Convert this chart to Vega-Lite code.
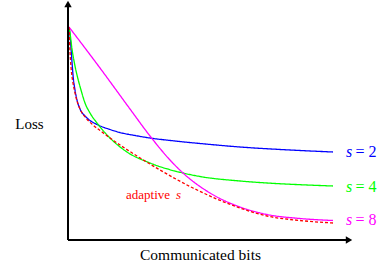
{
  "$schema": "https://vega.github.io/schema/vega-lite/v6.json",
  "width": 284,
  "height": 240,
  "autosize": {"type": "none"},
  "padding": {"left": 68, "top": 0, "right": 28, "bottom": 35},
  "background": "white",
  "config": {"view": {"stroke": null}, "font": "'Liberation Serif', serif"},
  "datasets": {
    "curves": [
      {"series": "s = 2", "x": 1, "y": 213}, {"series": "s = 2", "x": 2, "y": 205}, {"series": "s = 2", "x": 3, "y": 192}, {"series": "s = 2", "x": 4, "y": 178}, {"series": "s = 2", "x": 5, "y": 165}, {"series": "s = 2", "x": 7, "y": 150}, {"series": "s = 2", "x": 9, "y": 140}, {"series": "s = 2", "x": 12, "y": 131}, {"series": "s = 2", "x": 17, "y": 124}, {"series": "s = 2", "x": 22, "y": 119.5}, {"series": "s = 2", "x": 29, "y": 115.5}, {"series": "s = 2", "x": 42, "y": 110.5}, {"series": "s = 2", "x": 52, "y": 107.5}, {"series": "s = 2", "x": 67, "y": 104.5}, {"series": "s = 2", "x": 82, "y": 102}, {"series": "s = 2", "x": 107, "y": 99}, {"series": "s = 2", "x": 132, "y": 96.5}, {"series": "s = 2", "x": 172, "y": 93}, {"series": "s = 2", "x": 222, "y": 90}, {"series": "s = 2", "x": 265, "y": 88},
      {"series": "s = 4", "x": 1, "y": 213}, {"series": "s = 4", "x": 2, "y": 207}, {"series": "s = 4", "x": 4, "y": 191}, {"series": "s = 4", "x": 7, "y": 174}, {"series": "s = 4", "x": 10, "y": 161}, {"series": "s = 4", "x": 13, "y": 150}, {"series": "s = 4", "x": 17, "y": 137}, {"series": "s = 4", "x": 22, "y": 127}, {"series": "s = 4", "x": 29, "y": 117}, {"series": "s = 4", "x": 42, "y": 102}, {"series": "s = 4", "x": 59, "y": 88}, {"series": "s = 4", "x": 82, "y": 77}, {"series": "s = 4", "x": 115, "y": 67}, {"series": "s = 4", "x": 132, "y": 63.5}, {"series": "s = 4", "x": 172, "y": 59}, {"series": "s = 4", "x": 199, "y": 57}, {"series": "s = 4", "x": 232, "y": 55.3}, {"series": "s = 4", "x": 265, "y": 54},
      {"series": "s = 8", "x": 1, "y": 213}, {"series": "s = 8", "x": 32, "y": 172}, {"series": "s = 8", "x": 62, "y": 131}, {"series": "s = 8", "x": 82, "y": 104}, {"series": "s = 8", "x": 102, "y": 80}, {"series": "s = 8", "x": 115, "y": 67}, {"series": "s = 8", "x": 142, "y": 47}, {"series": "s = 8", "x": 172, "y": 33}, {"series": "s = 8", "x": 199, "y": 25.5}, {"series": "s = 8", "x": 232, "y": 21.5}, {"series": "s = 8", "x": 265, "y": 19.5},
      {"series": "adaptive", "x": 1, "y": 213}, {"series": "adaptive", "x": 1.5, "y": 200}, {"series": "adaptive", "x": 2, "y": 188}, {"series": "adaptive", "x": 3, "y": 173}, {"series": "adaptive", "x": 5, "y": 157}, {"series": "adaptive", "x": 7, "y": 147}, {"series": "adaptive", "x": 9, "y": 139}, {"series": "adaptive", "x": 12, "y": 131}, {"series": "adaptive", "x": 18, "y": 122}, {"series": "adaptive", "x": 25, "y": 115}, {"series": "adaptive", "x": 32, "y": 109.5}, {"series": "adaptive", "x": 42, "y": 102}, {"series": "adaptive", "x": 69, "y": 84}, {"series": "adaptive", "x": 92, "y": 70}, {"series": "adaptive", "x": 125, "y": 52}, {"series": "adaptive", "x": 172, "y": 32}, {"series": "adaptive", "x": 199, "y": 24}, {"series": "adaptive", "x": 232, "y": 19.5}, {"series": "adaptive", "x": 265, "y": 17}
    ],
    "axes": [
      {"x": 0, "y": 0, "x2": 0, "y2": 234},
      {"x": 0, "y": 0, "x2": 279, "y2": 0}
    ],
    "heads": [
      {"x": 0, "y": 236, "shape": "triangle-up"},
      {"x": 281, "y": 0, "shape": "triangle-right"}
    ],
    "labelS": [
      {"x": 278, "y": 88, "series": "s = 2", "t": "s"},
      {"x": 278, "y": 53, "series": "s = 4", "t": "s"},
      {"x": 278, "y": 20, "series": "s = 8", "t": "s"},
      {"x": 108, "y": 45, "series": "adaptive", "t": "s"}
    ],
    "labelRest": [
      {"x": 287.5, "y": 88, "series": "s = 2", "t": "= 2"},
      {"x": 287.5, "y": 53, "series": "s = 4", "t": "= 4"},
      {"x": 287.5, "y": 20, "series": "s = 8", "t": "= 8"}
    ],
    "labelAdaptive": [
      {"x": 58, "y": 45, "series": "adaptive", "t": "adaptive"}
    ]
  },
  "layer": [
    {
      "data": {"name": "curves"},
      "mark": {"type": "line", "interpolate": "monotone", "strokeWidth": 1.3},
      "encoding": {
        "x": {"field": "x", "type": "quantitative", "scale": {"domain": [0, 284], "nice": false, "zero": false},
          "axis": {"domain": false, "ticks": false, "labels": false, "grid": false, "title": "Communicated bits", "titleFont": "'Liberation Serif', serif", "titleFontSize": 15.5, "titleFontWeight": "normal", "titleColor": "black", "titleX": 132, "titleY": 14, "titleBaseline": "middle", "titleAlign": "center", "titleAnchor": null}},
        "y": {"field": "y", "type": "quantitative", "scale": {"domain": [0, 240], "nice": false, "zero": false},
          "axis": {"domain": false, "ticks": false, "labels": false, "grid": false, "title": "Loss", "titleAngle": 0, "titleFont": "'Liberation Serif', serif", "titleFontSize": 15, "titleFontWeight": "normal", "titleColor": "black", "titleX": -39, "titleY": 123, "titleBaseline": "middle", "titleAlign": "center", "titleAnchor": null}},
        "color": {"field": "series", "type": "nominal", "scale": {"domain": ["s = 2", "s = 4", "s = 8", "adaptive"], "range": ["#0000ff", "#00ff00", "#ff00ff", "#ff0000"]}, "legend": null},
        "strokeDash": {"field": "series", "type": "nominal", "scale": {"domain": ["s = 2", "s = 4", "s = 8", "adaptive"], "range": [[1, 0], [1, 0], [1, 0], [3, 2]]}, "legend": null},
        "order": {"field": "x", "type": "quantitative"}
      }
    },
    {
      "data": {"name": "axes"},
      "mark": {"type": "rule", "color": "black", "strokeWidth": 2},
      "encoding": {
        "x": {"field": "x", "type": "quantitative"},
        "y": {"field": "y", "type": "quantitative"},
        "x2": {"field": "x2"},
        "y2": {"field": "y2"}
      }
    },
    {
      "data": {"name": "heads"},
      "mark": {"type": "point", "filled": true, "color": "black", "opacity": 1, "size": 55},
      "encoding": {
        "x": {"field": "x", "type": "quantitative"},
        "y": {"field": "y", "type": "quantitative"},
        "shape": {"field": "shape", "type": "nominal", "scale": null, "legend": null}
      }
    },
    {
      "data": {"name": "labelS"},
      "transform": [{"filter": "datum.series != 'adaptive'"}],
      "mark": {"type": "text", "align": "left", "baseline": "middle", "font": "'Liberation Serif', serif", "fontSize": 16, "fontStyle": "italic"},
      "encoding": {
        "x": {"field": "x", "type": "quantitative"},
        "y": {"field": "y", "type": "quantitative"},
        "text": {"field": "t"},
        "color": {"field": "series", "type": "nominal", "legend": null}
      }
    },
    {
      "data": {"name": "labelS"},
      "transform": [{"filter": "datum.series == 'adaptive'"}],
      "mark": {"type": "text", "align": "left", "baseline": "middle", "font": "'Liberation Serif', serif", "fontSize": 13, "fontStyle": "italic"},
      "encoding": {
        "x": {"field": "x", "type": "quantitative"},
        "y": {"field": "y", "type": "quantitative"},
        "text": {"field": "t"},
        "color": {"field": "series", "type": "nominal", "legend": null}
      }
    },
    {
      "data": {"name": "labelRest"},
      "mark": {"type": "text", "align": "left", "baseline": "middle", "font": "'Liberation Serif', serif", "fontSize": 16},
      "encoding": {
        "x": {"field": "x", "type": "quantitative"},
        "y": {"field": "y", "type": "quantitative"},
        "text": {"field": "t"},
        "color": {"field": "series", "type": "nominal", "legend": null}
      }
    },
    {
      "data": {"name": "labelAdaptive"},
      "mark": {"type": "text", "align": "left", "baseline": "middle", "font": "'Liberation Serif', serif", "fontSize": 13},
      "encoding": {
        "x": {"field": "x", "type": "quantitative"},
        "y": {"field": "y", "type": "quantitative"},
        "text": {"field": "t"},
        "color": {"field": "series", "type": "nominal", "legend": null}
      }
    }
  ]
}
